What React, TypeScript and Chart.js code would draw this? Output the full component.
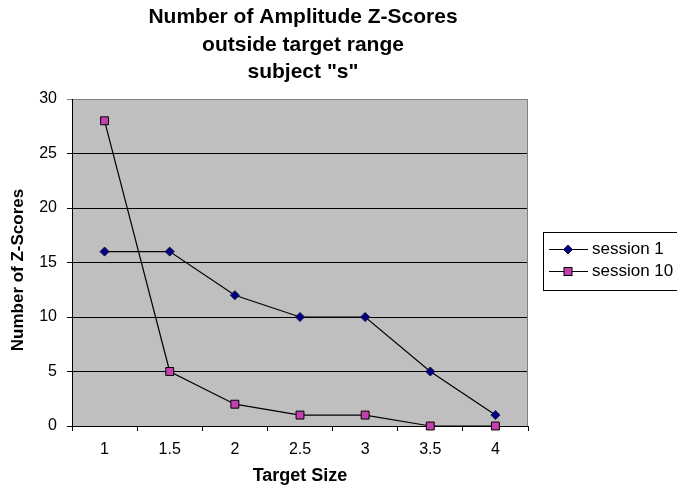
import React, { useEffect, useRef } from 'react';
import { Chart, registerables } from 'chart.js';

Chart.register(...registerables);

// Chart data
const targetSizes = ['1', '1.5', '2', '2.5', '3', '3.5', '4'];
const session1 = [16, 16, 12, 10, 10, 5, 1];
const session10 = [28, 5, 2, 1, 1, 0, 0];
const seriesNames = ['session 1', 'session 10'];
const titleLines = ['Number of Amplitude Z-Scores', 'outside target range', 'subject "s"'];
const yAxisTitle = 'Number of Z-Scores';
const xAxisTitle = 'Target Size';

const FONT = '"Liberation Sans", Arial, sans-serif';
const PLOT_BG = '#BFBFBF';
const FRAME_GRAY = '#808080';
const S1_FILL = '#000080';
const S1_EDGE = '#10104a';
const S10_FILL = '#C440AE';
const S10_EDGE = '#000000';

function drawDiamond(ctx: CanvasRenderingContext2D, x: number, y: number, r: number) {
  ctx.beginPath();
  ctx.moveTo(x, y - r);
  ctx.lineTo(x + r, y);
  ctx.lineTo(x, y + r);
  ctx.lineTo(x - r, y);
  ctx.closePath();
  ctx.fillStyle = S1_FILL;
  ctx.fill();
  ctx.strokeStyle = S1_EDGE;
  ctx.lineWidth = 1;
  ctx.stroke();
}

function drawSquare(ctx: CanvasRenderingContext2D, x: number, y: number, s: number) {
  ctx.fillStyle = S10_FILL;
  ctx.fillRect(x - s / 2, y - s / 2, s, s);
  ctx.strokeStyle = S10_EDGE;
  ctx.lineWidth = 1;
  ctx.strokeRect(x - s / 2, y - s / 2, s, s);
}

const plotFrame = {
  id: 'plotFrame',
  beforeDraw(chart: any) {
    const { ctx, chartArea } = chart;
    const { left, top, right, bottom } = chartArea;
    ctx.save();
    ctx.fillStyle = PLOT_BG;
    ctx.fillRect(left, top, right - left, bottom - top);
    ctx.restore();
  },
  beforeDatasetsDraw(chart: any) {
    const { ctx, chartArea } = chart;
    const { top, right, bottom } = chartArea;
    ctx.save();
    ctx.strokeStyle = FRAME_GRAY;
    ctx.lineWidth = 1;
    const rx = Math.round(right) - 0.5;
    ctx.beginPath();
    ctx.moveTo(rx, Math.round(top));
    ctx.lineTo(rx, Math.round(bottom));
    ctx.stroke();
    ctx.restore();
  },
  afterDraw(chart: any) {
    const { ctx } = chart;
    ctx.save();
    ctx.fillStyle = '#000000';
    ctx.textAlign = 'center';
    ctx.textBaseline = 'middle';

    // Chart title
    ctx.font = `bold 21px ${FONT}`;
    const titleY = [17, 45, 72];
    titleLines.forEach((line, i) => ctx.fillText(line, 303, titleY[i]));

    // Axis titles
    ctx.font = `bold 18px ${FONT}`;
    ctx.fillText(xAxisTitle, 300, 476);
    ctx.font = `bold 17px ${FONT}`;
    ctx.save();
    ctx.translate(18, 270);
    ctx.rotate(-Math.PI / 2);
    ctx.fillText(yAxisTitle, 0, 0);
    ctx.restore();

    // Legend box
    ctx.fillStyle = '#FFFFFF';
    ctx.fillRect(543.5, 232.5, 160, 58);
    ctx.strokeStyle = '#000000';
    ctx.lineWidth = 1;
    ctx.strokeRect(543.5, 232.5, 160, 58);

    const rowY = [249.5, 271.5];
    rowY.forEach((y, i) => {
      ctx.strokeStyle = '#000000';
      ctx.lineWidth = 1;
      ctx.beginPath();
      ctx.moveTo(549, y);
      ctx.lineTo(588, y);
      ctx.stroke();
      if (i === 0) drawDiamond(ctx, 568, y, 4.5);
      else drawSquare(ctx, 568, y, 8);
      ctx.fillStyle = '#000000';
      ctx.font = `17px ${FONT}`;
      ctx.textAlign = 'left';
      ctx.fillText(seriesNames[i], 592, y);
    });
    ctx.restore();
  },
};

export default function App() {
  const canvasRef = useRef<HTMLCanvasElement | null>(null);

  useEffect(() => {
    const canvas = canvasRef.current;
    if (!canvas) return;
    const chart = new Chart(canvas, {
      type: 'line',
      data: {
        labels: targetSizes,
        datasets: [
          {
            label: seriesNames[0],
            data: session1,
            borderColor: '#000000',
            borderWidth: 1.2,
            pointStyle: 'rectRot',
            pointRadius: 4.5,
            pointBackgroundColor: S1_FILL,
            pointBorderColor: S1_EDGE,
            pointBorderWidth: 1,
            tension: 0,
            clip: false,
          },
          {
            label: seriesNames[1],
            data: session10,
            borderColor: '#000000',
            borderWidth: 1.2,
            pointStyle: 'rect',
            pointRadius: 5.6,
            pointBackgroundColor: S10_FILL,
            pointBorderColor: S10_EDGE,
            pointBorderWidth: 1,
            tension: 0,
            clip: false,
          },
        ],
      },
      options: {
        responsive: false,
        animation: false,
        events: [],
        layout: { padding: { top: 99, left: 0, right: 149, bottom: 0 } },
        plugins: {
          legend: { display: false },
          title: { display: false },
          tooltip: { enabled: false },
        },
        scales: {
          x: {
            type: 'category',
            offset: true,
            afterFit: (scale: any) => {
              scale.height = 60;
            },
            grid: {
              offset: true,
              drawOnChartArea: false,
              drawTicks: true,
              tickLength: 5,
              color: '#000000',
              lineWidth: 1,
            },
            border: { display: true, color: '#000000', width: 1 },
            ticks: {
              color: '#000000',
              font: { family: FONT, size: 16 },
              padding: 9,
              maxRotation: 0,
            },
          },
          y: {
            min: 0,
            max: 30,
            afterFit: (scale: any) => {
              scale.width = 72;
            },
            grid: {
              drawTicks: true,
              tickLength: 5,
              color: (c: any) => (c.tick && c.tick.value === 30 ? FRAME_GRAY : '#000000'),
              lineWidth: 1,
            },
            border: { display: true, color: '#000000', width: 1 },
            ticks: {
              stepSize: 5,
              color: '#000000',
              font: { family: FONT, size: 16 },
              padding: 10,
            },
          },
        },
      },
      plugins: [plotFrame],
    });
    return () => chart.destroy();
  }, []);

  return (
    <div style={{ position: 'absolute', left: 0, top: 0, width: 677, height: 486, background: '#FFFFFF' }}>
      <canvas ref={canvasRef} width={677} height={486} style={{ display: 'block' }} />
    </div>
  );
}
